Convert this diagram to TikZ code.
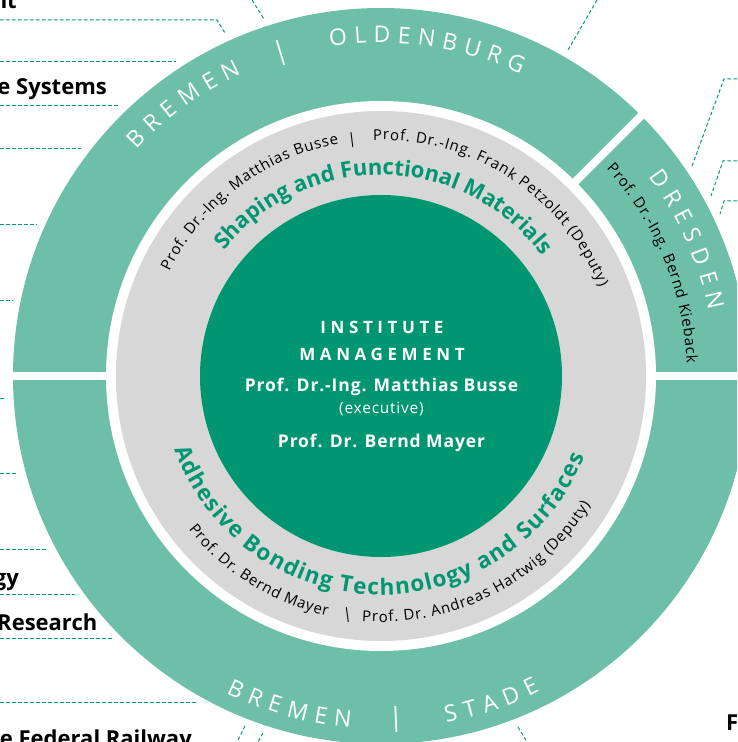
\documentclass[tikz,border=0pt]{standalone}
\usepackage{fontspec}
\setmainfont{Open Sans}
\usetikzlibrary{calc}
\newfontfamily\ringfont{Open Sans}
\newfontfamily\capsFont[LetterSpace=27]{Open Sans}
\newfontfamily\mgmtFont[LetterSpace=5]{Open Sans}
\definecolor{ringgreen}{HTML}{6EBFA8}
\definecolor{darkgreen}{HTML}{009672}
\definecolor{midgray}{HTML}{D6D7D6}
\definecolor{dashgreen}{HTML}{009A80}
\newlength\arcW \newlength\arcCh \newlength\arcPos \newlength\arcGap
\newbox\arcBox
\newcounter{arcnode}
\ExplSyntaxOn
\NewDocumentCommand\eachchar{mmm}{
  \str_map_inline:nn {#1} { \str_if_eq:nnTF {##1} {~} {#3} {#2{##1}} }
}
\ExplSyntaxOff
\newcommand{\arcMeasure}[1]{\setbox\arcBox\hbox{\pgfinterruptpicture\curFont #1\endpgfinterruptpicture}\arcCh=\wd\arcBox\relax}
\newcommand{\measureChar}[1]{\arcMeasure{#1}\advance\arcW by \arcCh\advance\arcW by \arcGap\relax}
\newcommand{\measureSpace}{\arcMeasure{\ }\advance\arcW by \arcCh\advance\arcW by \arcGap\relax}
\newcommand{\placeSpace}{\arcMeasure{\ }\advance\arcPos by \arcCh\advance\arcPos by \arcGap\relax}
\newcommand{\placeChar}[1]{%
  \arcMeasure{#1}%
  \pgfmathsetmacro{\theang}{\curCentre+\curDir*(\arcPos+0.5*\arcCh-0.5*\arcW)/\curRad*57.29578}%
  \pgfmathsetmacro{\therot}{\theang+\curDir*90}%
  \stepcounter{arcnode}%
  \node[anchor=base,inner sep=0pt,rotate=\therot] (ch\thearcnode) at (\theang:\curRad pt) {\curFont #1};%
  \advance\arcPos by \arcCh\advance\arcPos by \arcGap\relax}
% centre angle, baseline radius, direction (-1 top, 1 bottom), font, letter gap, text
\newcommand{\arctext}[6]{%
  \def\curCentre{#1}\def\curRad{#2}\def\curDir{#3}\def\curFont{#4}\arcGap=#5pt\relax
  \arcW=0pt\relax\arcPos=0pt\relax
  \eachchar{#6}{\measureChar}{\measureSpace}%
  \advance\arcW by -\arcGap\relax
  \eachchar{#6}{\placeChar}{\placeSpace}}
\newcommand{\RF}{\ringfont\fontsize{23}{23}\selectfont\color{white}}
\newcommand{\NF}{\fontsize{15}{15}\selectfont\color{black}}
\newcommand{\HF}{\bfseries\fontsize{22}{22}\selectfont\color{darkgreen}}
\newcommand{\HG}{\bfseries\fontsize{22.5}{23}\selectfont\color{darkgreen}}
\tikzset{
  leader/.style={draw=dashgreen,line width=1pt,dash pattern=on 3.6pt off 2.4pt},
  cutlabel/.style={anchor=base east,inner sep=0pt,font=\bfseries\fontsize{22}{22}\selectfont},
  whitestrip/.style={draw=white,line width=8pt},
  mgmt/.style={inner sep=0pt,text=white,anchor=base}
}
\begin{document}
\begin{tikzpicture}[x=1pt,y=1pt]
\useasboundingbox (-381,-366) rectangle (356,376);
\clip (-381,-366) rectangle (356,376);
\fill[ringgreen] (0,0) circle[radius=368pt];
\fill[white] (0,0) circle[radius=275pt];
\fill[midgray] (0,0) circle[radius=265pt];
\fill[darkgreen] (0,0) circle[radius=181pt];
% strips
\coordinate (sl1) at (-275,0); \coordinate (sl2) at (-380,0);
\coordinate (sr1) at (275,0); \coordinate (sr2) at (360,0);
\coordinate (sd1) at (45:274); \coordinate (sd2) at (45:380);
\draw[whitestrip] (sl1) -- (sl2);
\draw[whitestrip] (sr1) -- (sr2);
\draw[whitestrip] (sd1) -- (sd2);
% ring texts
\arctext{126}{333}{-1}{\RF}{7.5}{BREMEN}
\node[rotate=17,text=white,font=\fontsize{26}{26}\selectfont,inner sep=0pt] (bar1) at (107.3:338pt) {|};
\arctext{82}{333}{-1}{\RF}{7}{OLDENBURG}
\arctext{24}{334}{-1}{\RF}{7.5}{DRESDEN}
\arctext{22.5}{306}{-1}{\NF}{0.8}{Prof. Dr.-Ing. Bernd Kieback}
\arctext{-105.5}{353}{1}{\RF}{7.5}{BREMEN}
\node[rotate=2.5,text=white,font=\fontsize{26}{26}\selectfont,inner sep=0pt] (bar2) at (-87.5:344pt) {|};
\arctext{-71.3}{353}{1}{\RF}{7.5}{STADE}
% gray ring texts
\arctext{89}{201}{-1}{\HF}{0}{Shaping and Functional Materials}
\arctext{127}{236}{-1}{\NF}{0.75}{Prof. Dr.-Ing. Matthias Busse}
\node[rotate=7,text=black,font=\fontsize{15}{15}\selectfont,inner sep=0pt] (bar3) at (97:237.5pt) {|};
\arctext{57}{236}{-1}{\NF}{0.85}{Prof. Dr.-Ing. Frank Petzoldt (Deputy)}
\arctext{-91}{219}{1}{\HG}{1.2}{Adhesive Bonding Technology and Surfaces}
\arctext{-122}{246}{1}{\NF}{0.7}{Prof. Dr. Bernd Mayer}
\node[rotate=8,text=black,font=\fontsize{15}{15}\selectfont,inner sep=0pt] (bar4) at (-98:241pt) {|};
\arctext{-63}{246}{1}{\NF}{0.85}{Prof. Dr. Andreas Hartwig (Deputy)}
% centre
\begin{scope}[x=1pt,y=-1pt,shift={(-381,-376)}]
\node[mgmt,font=\capsFont\bfseries\fontsize{17}{17}\selectfont] (m1) at (382,333) {INSTITUTE};
\node[mgmt,font=\capsFont\bfseries\fontsize{17}{17}\selectfont] (m2) at (382,360) {MANAGEMENT};
\node[mgmt,font=\mgmtFont\bfseries\fontsize{17.5}{18}\selectfont] (m3) at (381.5,391) {Prof. Dr.-Ing. Matthias Busse};
\node[mgmt,font=\mgmtFont\fontsize{15.5}{16}\selectfont] (m4) at (381.5,413) {(executive)};
\node[mgmt,font=\mgmtFont\bfseries\fontsize{17.5}{18}\selectfont] (m5) at (381.5,447) {Prof. Dr. Bernd Mayer};
% cropped labels
\node[cutlabel] (l1) at (17,9) {nt};
\node[cutlabel] (l2) at (107,95) {e Systems};
\node[cutlabel] (l3) at (19,585) {gy};
\node[cutlabel] (l4) at (97.5,630) {Research};
\node[cutlabel] (l5) at (192,746) {e Federal Railway};
\node[cutlabel,anchor=base west] (l6) at (726,730) {F};
% leaders
\draw[leader] (0,20) -- (217,20) -- (225,33);
\draw[leader] (0,62) -- (176,62);
\draw[leader] (0,106) -- (119,106);
\draw[leader] (0,149) -- (81,149);
\draw[leader] (0,225) -- (37,225);
\draw[leader] (0,301) -- (13,301);
\draw[leader] (0,398.5) -- (6,398.5);
\draw[leader] (0,473) -- (18,473);
\draw[leader] (0,549) -- (47,549);
\draw[leader] (0,594) -- (75,594);
\draw[leader] (0,638) -- (113,638);
\draw[leader] (0,702) -- (196,702);
\draw[leader] (252,0) -- (264,19);
\draw[leader] (597,0) -- (568,50);
\draw[leader] (737,79) -- (724,79) -- (692,166);
\draw[leader] (737,161) -- (723,161) -- (711,196);
\draw[leader] (737,201) -- (724,201) -- (720,214);
\draw[leader] (245,726) -- (237,742);
\draw[leader] (263,733) -- (258,742);
\draw[leader] (518,727) -- (527,742);
\end{scope}
\end{tikzpicture}
\end{document}
